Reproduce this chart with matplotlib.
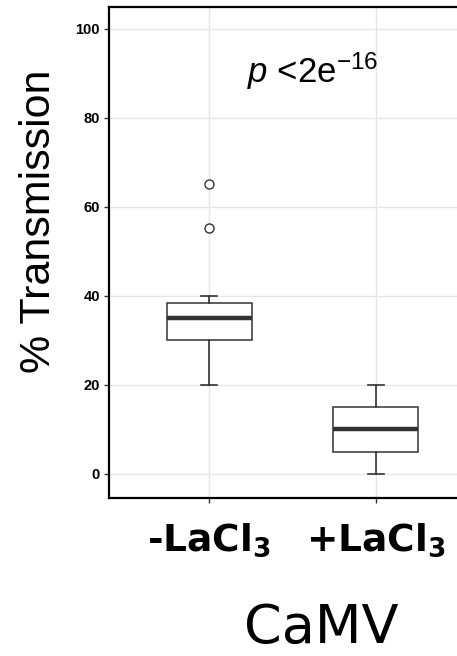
import matplotlib
matplotlib.use("Agg")
import matplotlib.pyplot as plt

# box statistics
groups = ["-LaCl$_\\mathrm{3}$", "+LaCl$_\\mathrm{3}$"]
q1 = [30, 5]
med = [35, 10]
q3 = [38.5, 15]
whislo = [20, 0]
whishi = [40, 20]
fliers = [[55.3, 65.2], []]
yticks = [0, 20, 40, 60, 80, 100]

plt.rcParams["mathtext.fontset"] = "custom"
plt.rcParams["mathtext.rm"] = "DejaVu Sans:bold"
plt.rcParams["mathtext.it"] = "Liberation Sans:italic"
plt.rcParams["mathtext.sf"] = "Liberation Sans"

fig = plt.figure(figsize=(4.57, 6.56), dpi=100)
ax = fig.add_axes([109 / 457, 1 - 498 / 656, 367 / 457, 491 / 656])

stats = []
for i in range(len(groups)):
    stats.append({"q1": q1[i], "med": med[i], "q3": q3[i],
                  "whislo": whislo[i], "whishi": whishi[i],
                  "fliers": fliers[i]})

edge = "#333333"
ax.bxp(stats, positions=[1, 2], widths=0.51, capwidths=0.095,
       patch_artist=True,
       boxprops=dict(facecolor="white", edgecolor=edge, linewidth=1.1),
       medianprops=dict(color=edge, linewidth=3.2, solid_capstyle="butt"),
       whiskerprops=dict(color=edge, linewidth=1.2),
       capprops=dict(color=edge, linewidth=1.2),
       flierprops=dict(marker="o", markersize=6.5, markerfacecolor="white",
                       markeredgecolor=edge, markeredgewidth=1.0),
       zorder=3)

ax.set_xlim(0.4, 2.6)
ax.set_ylim(-5.4, 104.9)
ax.set_yticks(yticks)
ax.set_xticks([1, 2])
ax.set_xticklabels(groups)
ax.grid(True, color="#e6e6e6", linewidth=1.0, zorder=0)
ax.set_axisbelow(True)

for lab in ax.get_yticklabels():
    lab.set_fontfamily("Liberation Sans")
    lab.set_fontweight("bold")
    lab.set_fontsize(10.5)
for lab in ax.get_xticklabels():
    lab.set_fontfamily("DejaVu Sans")
    lab.set_fontweight("bold")
    lab.set_fontsize(27)

ax.tick_params(axis="y", length=3.5, width=1, color=edge, pad=3)
ax.tick_params(axis="x", length=3.5, width=1, color=edge, pad=13)
for s in ax.spines.values():
    s.set_color("black")
    s.set_linewidth(1.6)

ax.text(1.62, 87.9, r"$\mathit{p}$ <2e$^{\mathsf{-16}}$", family="Liberation Sans",
        fontsize=25, ha="center", va="baseline")

fig.text(39 / 457, 1 - 221 / 656, "% Transmission", family="Liberation Sans",
         fontsize=31, rotation=90, ha="center", va="center")
fig.text(321 / 457, 1 - 643 / 656, "CaMV", family="DejaVu Sans",
         fontsize=39, ha="center", va="baseline")

fig.savefig("out.png", dpi=100)
